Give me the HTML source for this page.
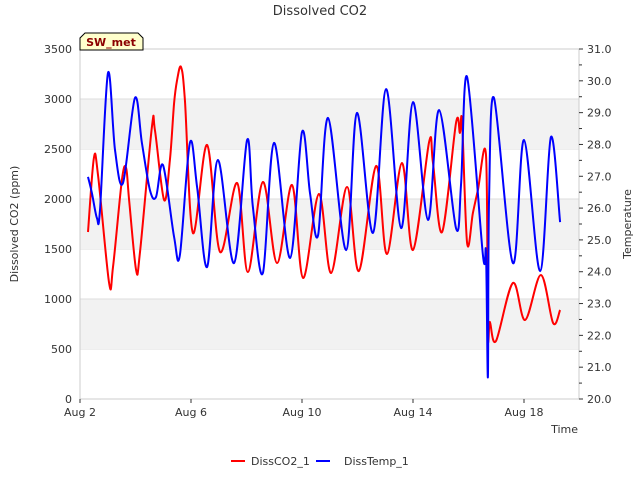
<!DOCTYPE html>
<html><head><meta charset="utf-8"><style>
body{margin:0;background:#fff;font-family:"Liberation Sans",sans-serif}
svg text{font-family:"DejaVu Sans","Liberation Sans",sans-serif}
</style></head><body>
<svg width="640" height="480" xmlns="http://www.w3.org/2000/svg">
<text x="320" y="15" text-anchor="middle" font-size="13" fill="#333">Dissolved CO2</text>
<g id="bands"></g>
<rect x="80" y="49" width="499" height="350" fill="none" stroke="#ccc"/>
<g id="axes" font-size="11" fill="#333"></g>
<g id="series"></g>
<text transform="translate(18,224) rotate(-90)" text-anchor="middle" font-size="11" fill="#333">Dissolved CO2 (ppm)</text>
<text transform="translate(631,224) rotate(-90)" text-anchor="middle" font-size="11" fill="#333">Temperature</text>
<text x="578" y="433" text-anchor="end" font-size="11" fill="#333">Time</text>
<g>
<path d="M80,50 L80,38 L85,33 L138,33 L143,38 L143,50 Z" fill="#ffffcc" stroke="#000"/>
<text x="111" y="46" text-anchor="middle" font-size="11" font-weight="bold" fill="#8b0000">SW_met</text>
</g>
<g font-size="11" fill="#333">
<g><line x1="231" y1="461" x2="245" y2="461" stroke="red" stroke-width="2"/><text x="251" y="465">DissCO2_1</text></g>
<g><line x1="316" y1="461" x2="330" y2="461" stroke="blue" stroke-width="2"/><text x="344" y="465">DissTemp_1</text></g>
</g>
</svg>
<script>
const co2Days=[2.29,2.50,2.65,3.05,3.19,3.51,3.66,3.77,4.02,4.16,4.59,4.70,5.03,5.24,5.39,5.50,5.64,5.78,6.07,6.58,7.05,7.66,8.05,8.59,9.10,9.64,10.04,10.61,11.05,11.62,12.05,12.67,13.06,13.60,14.00,14.58,14.72,15.05,15.55,15.69,15.77,15.95,16.16,16.34,16.63,16.70,16.77,16.99,17.60,18.04,18.61,19.05,19.30];
const co2Values=[1670,2410,2240,1160,1320,2190,2310,1990,1290,1460,2720,2690,1990,2390,2960,3190,3320,2990,1660,2540,1470,2160,1270,2170,1360,2140,1210,2050,1260,2120,1280,2330,1450,2360,1490,2570,2360,1670,2760,2660,2770,1560,1860,2090,2440,660,770,580,1160,790,1240,760,890];
const tempDays=[2.29,2.43,2.61,2.72,3.01,3.26,3.55,3.98,4.23,4.52,4.74,4.99,5.39,5.60,5.96,6.22,6.58,6.97,7.55,8.02,8.23,8.59,8.99,9.57,10.00,10.29,10.58,10.94,11.59,11.98,12.56,13.03,13.57,14.00,14.54,14.94,15.55,15.73,15.95,16.52,16.63,16.70,16.74,16.92,17.60,18.00,18.58,18.97,19.30];
const tempValues=[26.98,26.47,25.69,25.94,30.25,27.83,26.79,29.46,28.05,26.57,26.35,27.35,25.09,24.53,28.05,26.66,24.15,27.51,24.27,28.14,26.03,23.96,28.05,24.43,28.39,26.47,25.15,28.83,24.68,28.99,25.22,29.74,25.37,29.33,25.63,29.08,25.37,26.73,30.12,24.53,24.59,20.69,26.19,29.46,24.27,28.14,24.02,28.23,25.56];
const leftTicks=[0,500,1000,1500,2000,2500,3000,3500];
const rightTicks=[20,21,22,23,24,25,26,27,28,29,30,31];
const xTicks=[2,6,10,14,18];
const xTickLabels=["Aug 2","Aug 6","Aug 10","Aug 14","Aug 18"];
const NS="http://www.w3.org/2000/svg";
const X=d=>80+(d-2)*27.75, YL=v=>399-v*0.1, YR=t=>399-(t-20)*350/11;
function mk(tag,attrs,parent,txt){const e=document.createElementNS(NS,tag);for(const k in attrs)e.setAttribute(k,attrs[k]);if(txt!==undefined)e.textContent=txt;parent.appendChild(e);return e;}
const bands=document.getElementById('bands'),axes=document.getElementById('axes'),series=document.getElementById('series');
for(let i=0;i<leftTicks.length-1;i++){if(i%2===1){const r=mk('rect',{x:80,y:YL(leftTicks[i+1]),width:499,height:YL(leftTicks[i])-YL(leftTicks[i+1]),fill:'#f2f2f2'},bands);

}
const l=mk('line',{x1:80,x2:579,y1:YL(leftTicks[i+1]),y2:YL(leftTicks[i+1]),stroke:'#ddd'},bands);

}
leftTicks.forEach(v=>{const t=mk('text',{x:72,y:YL(v)+4,'text-anchor':'end'},axes,String(v));

});
rightTicks.forEach(v=>{const t=mk('text',{x:587,y:YR(v)+4},axes,v.toFixed(1));


mk('line',{x1:579,x2:583,y1:YR(v),y2:YR(v),stroke:'#333'},axes);
if(v<31)mk('line',{x1:579,x2:582,y1:YR(v+0.5),y2:YR(v+0.5),stroke:'#333'},axes);});
xTicks.forEach((d,i)=>{const t=mk('text',{x:X(d),y:416,'text-anchor':'middle'},axes,xTickLabels[i]);


mk('line',{x1:X(d),x2:X(d),y1:399,y2:403,stroke:'#333'},axes);});
function spline(xs,ys){const p=xs.map((x,i)=>[x,ys[i]]);let d='M'+p[0][0].toFixed(1)+','+p[0][1].toFixed(1);
for(let i=0;i<p.length-1;i++){const p0=p[Math.max(0,i-1)],p1=p[i],p2=p[i+1],p3=p[Math.min(p.length-1,i+2)];
const k=1/6;const c1=[p1[0]+(p2[0]-p0[0])*k,p1[1]+(p2[1]-p0[1])*k],c2=[p2[0]-(p3[0]-p1[0])*k,p2[1]-(p3[1]-p1[1])*k];
c1[0]=Math.min(Math.max(c1[0],p1[0]),p2[0]);c2[0]=Math.min(Math.max(c2[0],p1[0]),p2[0]);
d+=' C'+c1.map(v=>v.toFixed(1)).join(',')+' '+c2.map(v=>v.toFixed(1)).join(',')+' '+p2[0].toFixed(1)+','+p2[1].toFixed(1);}return d;}
const red=mk('path',{d:spline(co2Days.map(X),co2Values.map(YL)),fill:'none',stroke:'red','stroke-width':2},series);


const blue=mk('path',{d:spline(tempDays.map(X),tempValues.map(YR)),fill:'none',stroke:'blue','stroke-width':2},series);


</script>
</body></html>
